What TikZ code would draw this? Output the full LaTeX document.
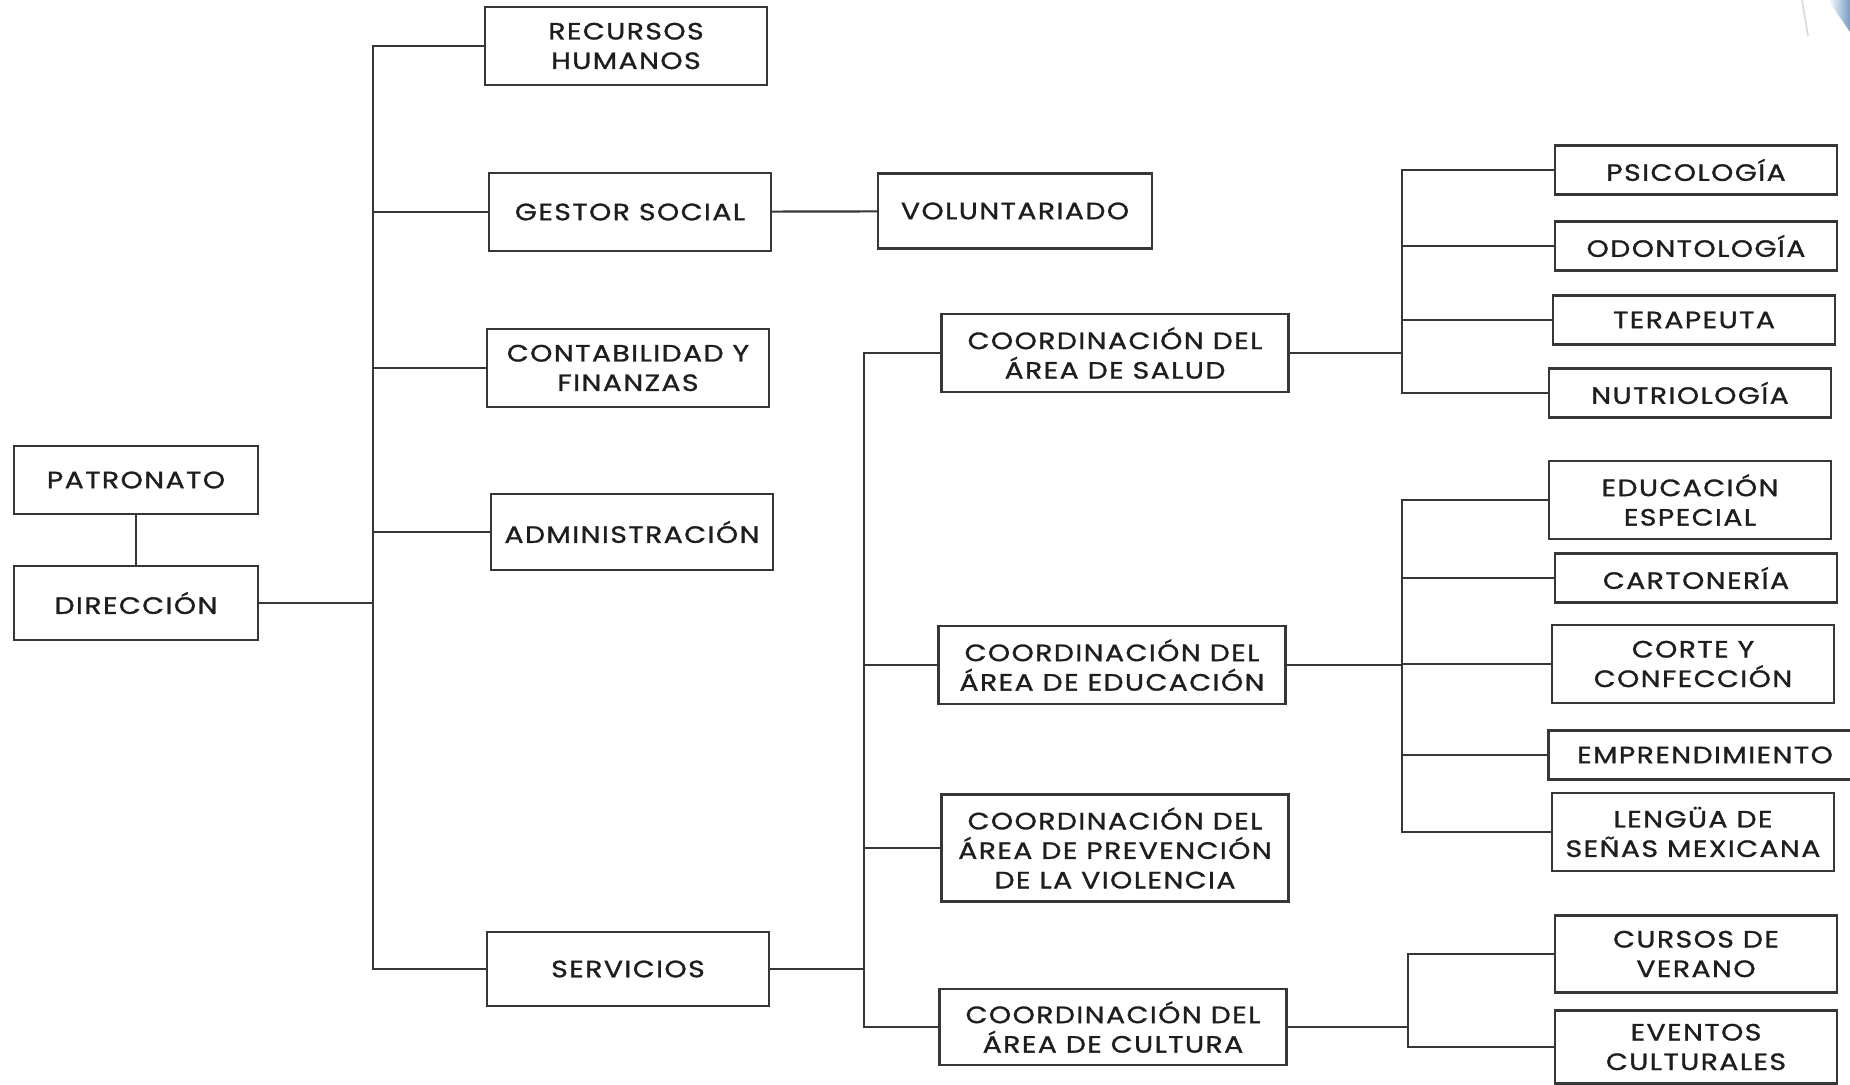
\documentclass[tikz,border=0pt]{standalone}
\usepackage{fontspec}
\setmainfont[LetterSpace=6,FakeStretch=1.2,FakeBold=1.2]{Poppins}
\usetikzlibrary{positioning,calc}
\definecolor{trazo}{RGB}{55,55,55}
\definecolor{letra}{RGB}{30,30,30}
\definecolor{esquina}{RGB}{120,155,195}

\tikzset{
  caja/.style={draw=trazo, line width=1.1pt, align=center, inner sep=0pt,
    text=letra, font=\fontsize{11.8}{14.75}\selectfont,
    minimum width=141pt, minimum height=39pt},
  cajachica/.style={caja, minimum height=24.5pt},
  cajacoord/.style={caja, minimum width=173.5pt},
  rama/.style={draw=trazo, line width=1.1pt}
}

\begin{document}
\begin{tikzpicture}[x=0.5pt,y=-0.5pt]
  \useasboundingbox (0,0) rectangle (1850,1085);
  % esquina superior
  \shade[left color=white, right color=esquina] (1828,0) -- (1850,0) -- (1850,32) -- cycle;
  \draw[black!15, line width=0.8pt] (1802,0) -- (1808,36);

  % columna izquierda
  \node[caja, minimum width=122pt, minimum height=34pt] (patronato) at (136,480) {PATRONATO};
  \node[caja, minimum width=122pt, minimum height=37pt] (direccion) at (136,603) {DIRECCIÓN};

  % areas
  \node[caja] (rrhh) at (626,46) {RECURSOS\\HUMANOS};
  \node[caja] (gestor) at (630,212) {GESTOR SOCIAL};
  \node[caja, minimum width=137pt, minimum height=37.5pt] (voluntariado) at (1015,211) {VOLUNTARIADO};
  \node[caja] (contabilidad) at (628,368) {CONTABILIDAD Y\\FINANZAS};
  \node[caja, minimum height=38pt] (administracion) at (632,532) {ADMINISTRACIÓN};
  \node[caja, minimum height=37pt] (servicios) at (628,969) {SERVICIOS};

  % coordinaciones
  \node[cajacoord] (salud) at (1115,353) {COORDINACIÓN DEL\\ÁREA DE SALUD};
  \node[cajacoord] (educacion) at (1112,665) {COORDINACIÓN DEL\\ÁREA DE EDUCACIÓN};
  \node[cajacoord, minimum height=53.5pt] (prevencion) at (1115,848) {COORDINACIÓN DEL\\ÁREA DE PREVENCIÓN\\DE LA VIOLENCIA};
  \node[cajacoord, minimum height=38pt] (cultura) at (1113,1027) {COORDINACIÓN DEL\\ÁREA DE CULTURA};

  % programas
  \node[cajachica] (psicologia) at (1696,170) {PSICOLOGÍA};
  \node[cajachica] (odontologia) at (1696,246) {ODONTOLOGÍA};
  \node[cajachica] (terapeuta) at (1694,320) {TERAPEUTA};
  \node[cajachica] (nutriologia) at (1690,393) {NUTRIOLOGÍA};
  \node[caja] (especial) at (1690,500) {EDUCACIÓN\\ESPECIAL};
  \node[cajachica] (cartoneria) at (1696,578) {CARTONERÍA};
  \node[caja] (corte) at (1693,664) {CORTE Y\\CONFECCIÓN};
  \node[cajachica, minimum width=156.5pt] (emprendimiento) at (1705,755) {EMPRENDIMIENTO};
  \node[caja] (lengua) at (1693,832) {LENGÜA DE\\SEÑAS MEXICANA};
  \node[caja, minimum height=38.5pt] (cursos) at (1696,954) {CURSOS DE\\VERANO};
  \node[caja, minimum height=36.5pt] (eventos) at (1696,1047) {EVENTOS\\CULTURALES};

  % ejes de las ramas
  \coordinate (eje1) at (373,0);
  \coordinate (eje2) at (864,0);
  \coordinate (eje3) at (1402,0);
  \coordinate (eje4) at (1408,0);

  \draw[rama] (patronato) -- (direccion);
  \draw[rama] (direccion.east) -- (direccion.east -| eje1);
  \draw[rama] (rrhh.west) -- (rrhh.west -| eje1) -- (servicios.west -| eje1) -- (servicios.west);
  \foreach \n in {gestor,contabilidad,administracion}
    \draw[rama] (\n.west) -- (\n.west -| eje1);
  \draw[rama] (gestor) -- (voluntariado);

  \draw[rama] (salud.west) -- (salud.west -| eje2) -- (cultura.west -| eje2) -- (cultura.west);
  \foreach \n in {educacion,prevencion}
    \draw[rama] (\n.west) -- (\n.west -| eje2);
  \draw[rama] (servicios.east) -- (servicios.east -| eje2);

  \draw[rama] (psicologia.west) -- (psicologia.west -| eje3) -- (nutriologia.west -| eje3) -- (nutriologia.west);
  \foreach \n in {odontologia,terapeuta}
    \draw[rama] (\n.west) -- (\n.west -| eje3);
  \draw[rama] (salud.east) -- (salud.east -| eje3);

  \draw[rama] (especial.west) -- (especial.west -| eje3) -- (lengua.west -| eje3) -- (lengua.west);
  \foreach \n in {cartoneria,corte,emprendimiento}
    \draw[rama] (\n.west) -- (\n.west -| eje3);
  \draw[rama] (educacion.east) -- (educacion.east -| eje3);

  \draw[rama] (cursos.west) -- (cursos.west -| eje4) -- (eventos.west -| eje4) -- (eventos.west);
  \draw[rama] (cultura.east) -- (cultura.east -| eje4);
\end{tikzpicture}
\end{document}
